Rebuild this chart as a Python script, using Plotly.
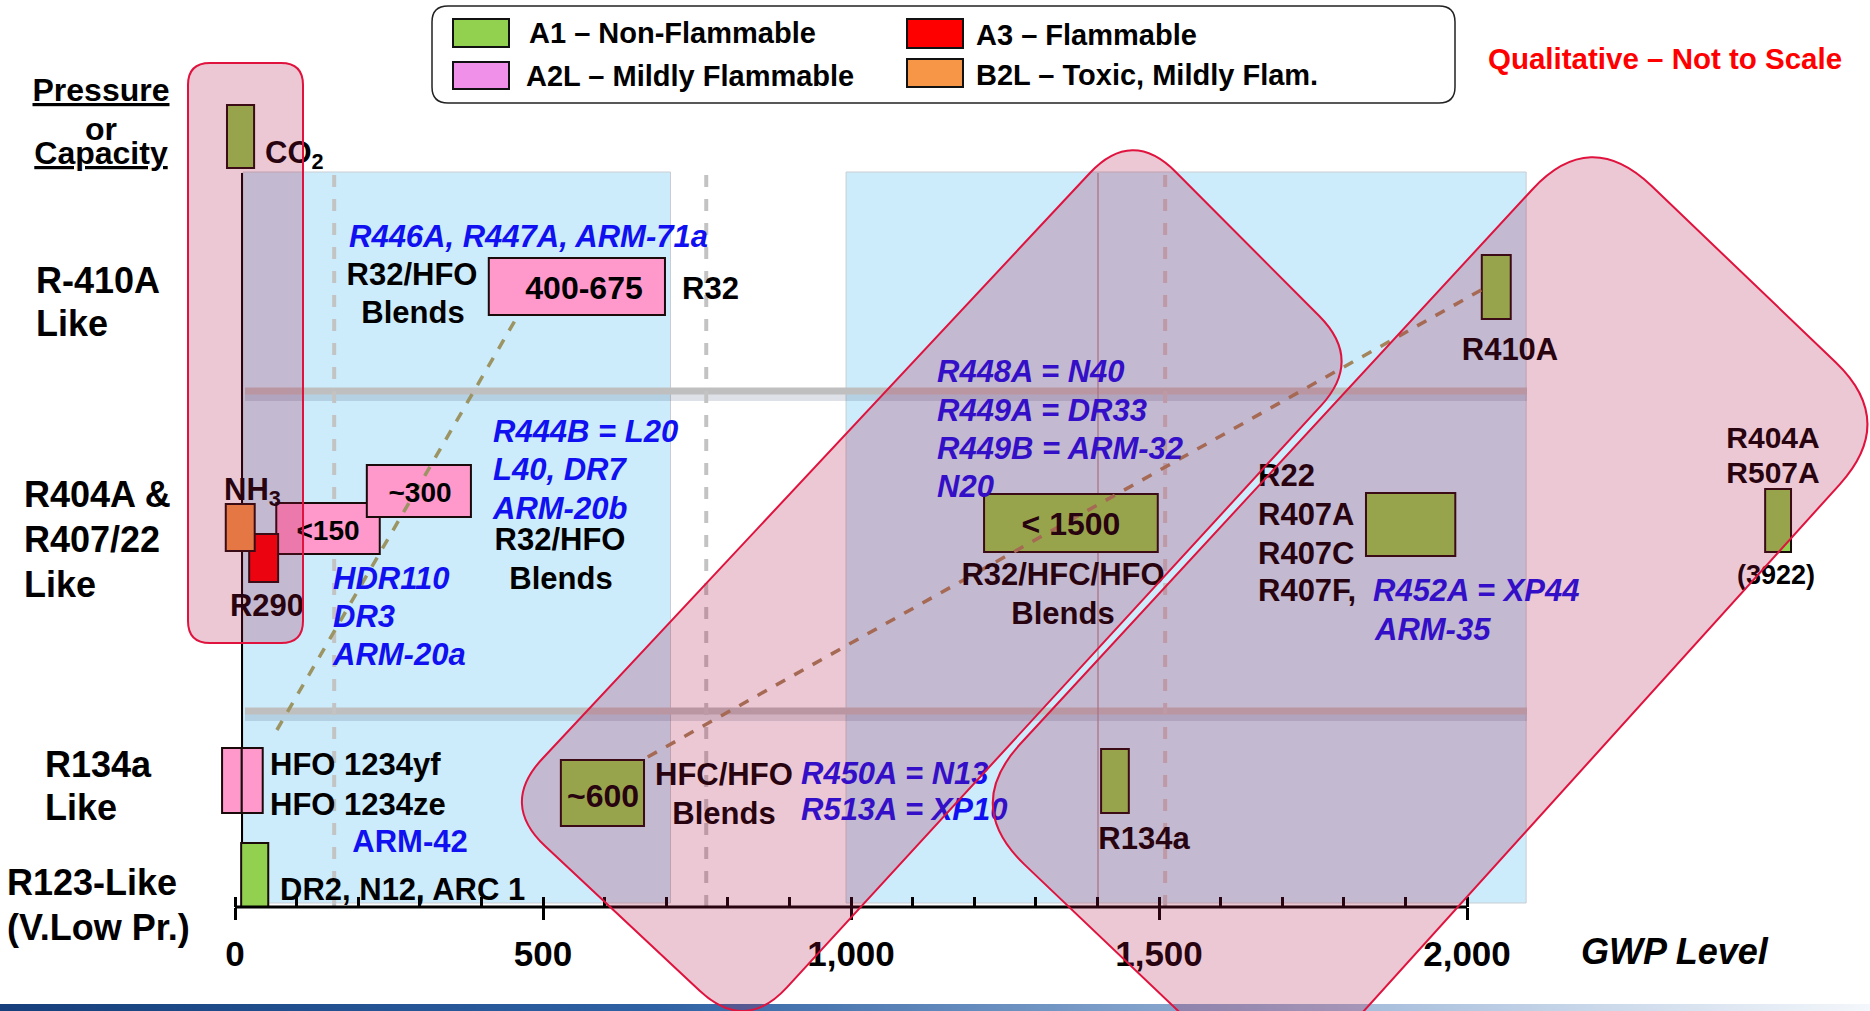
import numpy as np
import plotly.graph_objects as go

W, H = 1870, 1011
X0PX, PXPER = 235.0, 0.616      # pixel column of GWP 0, pixels per GWP unit
AXIS_Y = 907                    # pixel row of the GWP axis
TEXT_DY = 4                     # vertical nudge for chart labels

def gx(px):
    return (px - X0PX) / PXPER

# ------------------------------------------------------------------ data
gwp_major_ticks = [0, 500, 1000, 1500, 2000]
gwp_tick_text = ["0", "500", "1,000", "1,500", "2,000"]
gwp_minor_ticks = [v for v in range(100, 2000, 100) if v % 500]

safety_classes = ["A1", "A2L", "A3", "B2L"]
safety_labels = ["A1 – Non-Flammable", "A2L – Mildly Flammable",
                 "A3 – Flammable", "B2L – Toxic, Mildly Flam."]

marker_names = ["CO2", "NH3", "R290", "<150", "~300", "400-675", "< 1500",
                "R22/R407", "R404A/R507A", "R410A", "~600", "R134a",
                "HFO 1234yf", "HFO 1234ze", "DR2/N12/ARC 1"]
marker_class = ["A1", "B2L", "A3", "A2L", "A2L", "A2L", "A1",
                "A1", "A1", "A1", "A1", "A1", "A2L", "A2L", "A1"]
marker_gwp_lo = [-13, -15, 23, 67, 214, 412, 1216, 1836, 2484, 2024, 529, 1406, -21, 11, 10]
marker_gwp_hi = [31, 32, 70, 235, 383, 698, 1498, 1981, 2526, 2071, 664, 1451, 11, 45, 54]

# qualitative zones / guides (GWP)
zone_gwp_lo = [13, 992]
zone_gwp_hi = [707, 2096]
guide_gwp = [161, 765, 1510]
connector_gwp_from = [68, 670]
connector_gwp_to = [455, 2026]

# ------------------------------------------------------------------ layout (pixel rows)
marker_row_top = [105, 504, 534, 503, 465, 258, 494, 493, 489, 255, 760, 749, 748, 748, 843]
marker_row_bot = [168, 551, 582, 554, 517, 315, 552, 556, 552, 319, 826, 813, 813, 813, 907]
connector_row_from = [730, 757]
connector_row_to = [320, 289]

class_fill = {"A1": "#92D050", "A2L": "#FF99CC", "A3": "#FF0000", "B2L": "#F79646"}
legend_fill = {"A1": "#92D050", "A2L": "#F090E8", "A3": "#FF0000", "B2L": "#F79646"}

BLUE = "#1010F0"
BLACK = "#000000"
FONT = "Liberation Sans, Arial, sans-serif"

# labels: text, x px, y px, align, color, size, italic, underline
labels = [
    ("Pressure", 101, 89, "c", BLACK, 32, False, True),
    ("or", 101, 128, "c", BLACK, 32, False, False),
    ("Capacity", 101, 152, "c", BLACK, 32, False, True),
    ("R-410A", 36, 280, "l", BLACK, 36, False, False),
    ("Like", 36, 323, "l", BLACK, 36, False, False),
    ("R404A &", 24, 494, "l", BLACK, 36, False, False),
    ("R407/22", 24, 539, "l", BLACK, 36, False, False),
    ("Like", 24, 584, "l", BLACK, 36, False, False),
    ("R134a", 45, 764, "l", BLACK, 36, False, False),
    ("Like", 45, 807, "l", BLACK, 36, False, False),
    ("R123-Like", 7, 882, "l", BLACK, 36, False, False),
    ("(V.Low Pr.)", 7, 927, "l", BLACK, 36, False, False),
    ("CO<sub>2</sub>", 265, 151, "l", BLACK, 31, False, False),
    ("R446A, R447A, ARM-71a", 349, 235, "l", BLUE, 31, True, False),
    ("R32/HFO", 412, 273, "c", BLACK, 31, False, False),
    ("Blends", 413, 311, "c", BLACK, 31, False, False),
    ("400-675", 584, 287, "c", BLACK, 32, False, False),
    ("R32", 682, 287, "l", BLACK, 31, False, False),
    ("NH<sub>3</sub>", 224, 488, "l", BLACK, 31, False, False),
    ("<150", 328, 529, "c", BLACK, 28, False, False),
    ("~300", 420, 491, "c", BLACK, 28, False, False),
    ("R290", 267, 604, "c", BLACK, 31, False, False),
    ("HDR110", 333, 577, "l", BLUE, 31, True, False),
    ("DR3", 333, 615, "l", BLUE, 31, True, False),
    ("ARM-20a", 333, 653, "l", BLUE, 31, True, False),
    ("R444B = L20", 493, 430, "l", BLUE, 31, True, False),
    ("L40, DR7", 493, 468, "l", BLUE, 31, True, False),
    ("ARM-20b", 493, 507, "l", BLUE, 31, True, False),
    ("R32/HFO", 560, 538, "c", BLACK, 31, False, False),
    ("Blends", 561, 577, "c", BLACK, 31, False, False),
    ("R448A = N40", 937, 370, "l", BLUE, 31, True, False),
    ("R449A = DR33", 937, 409, "l", BLUE, 31, True, False),
    ("R449B = ARM-32", 937, 447, "l", BLUE, 31, True, False),
    ("N20", 937, 485, "l", BLUE, 31, True, False),
    ("< 1500", 1071, 523, "c", BLACK, 32, False, False),
    ("R32/HFC/HFO", 1063, 573, "c", BLACK, 31, False, False),
    ("Blends", 1063, 612, "c", BLACK, 31, False, False),
    ("R22", 1258, 474, "l", BLACK, 31, False, False),
    ("R407A", 1258, 513, "l", BLACK, 31, False, False),
    ("R407C", 1258, 552, "l", BLACK, 31, False, False),
    ("R407F,", 1258, 589, "l", BLACK, 31, False, False),
    ("R452A = XP44", 1373, 589, "l", BLUE, 31, True, False),
    ("ARM-35", 1375, 628, "l", BLUE, 31, True, False),
    ("R404A", 1773, 436, "c", BLACK, 30, False, False),
    ("R507A", 1773, 471, "c", BLACK, 30, False, False),
    ("(3922)", 1776, 573, "c", BLACK, 27, False, False),
    ("R410A", 1510, 348, "c", BLACK, 31, False, False),
    ("HFC/HFO", 655, 773, "l", BLACK, 31, False, False),
    ("Blends", 724, 812, "c", BLACK, 31, False, False),
    ("~600", 603, 795, "c", BLACK, 32, False, False),
    ("R450A = N13", 801, 772, "l", BLUE, 31, True, False),
    ("R513A = XP10", 801, 808, "l", BLUE, 31, True, False),
    ("R134a", 1144, 837, "c", BLACK, 31, False, False),
    ("HFO 1234yf", 270, 763, "l", BLACK, 31, False, False),
    ("HFO 1234ze", 270, 803, "l", BLACK, 31, False, False),
    ("ARM-42", 410, 840, "c", BLUE, 31, False, False),
    ("DR2, N12, ARC 1", 280, 888, "l", BLACK, 31, False, False),
    ("GWP Level", 1581, 951, "l", BLACK, 36, True, False),
]


def rounded_path(pts, t):
    """Closed path through pixel corner points with rounded corners (tangent length t)."""
    n = len(pts)
    d = ""
    for i in range(n):
        p = np.array(pts[i], float)
        prv = np.array(pts[i - 1], float)
        nxt = np.array(pts[(i + 1) % n], float)
        a = p + (prv - p) / np.linalg.norm(prv - p) * t
        b = p + (nxt - p) / np.linalg.norm(nxt - p) * t
        d += ("M" if i == 0 else "L") + f"{gx(a[0]):.2f},{a[1]:.2f} "
        d += f"Q{gx(p[0]):.2f},{p[1]:.2f} {gx(b[0]):.2f},{b[1]:.2f} "
    return d + "Z"


fig = go.Figure()

# bottom gradient stripe
fig.add_trace(go.Scatter(
    x=[gx(0), gx(W), gx(W), gx(0), gx(0)], y=[1004, 1004, 1012, 1012, 1004],
    mode="lines", line=dict(width=0), fill="toself",
    fillgradient=dict(type="horizontal",
                      colorscale=[[0, "#163F7C"], [0.35, "#2F62A4"], [0.7, "#9DB7D8"], [1, "#F4F7FB"]]),
    hoverinfo="skip", showlegend=False))

# axis baseline
fig.add_trace(go.Scatter(x=[gwp_major_ticks[0], gwp_major_ticks[-1]], y=[AXIS_Y, AXIS_Y],
                         mode="lines", line=dict(color="black", width=3),
                         hoverinfo="skip", showlegend=False))

# dashed connectors
conn_colors = ["#9C9462", "#A4845A"]
for i in range(len(connector_gwp_from)):
    fig.add_trace(go.Scatter(x=[connector_gwp_from[i], connector_gwp_to[i]],
                             y=[connector_row_from[i], connector_row_to[i]],
                             mode="lines", line=dict(color=conn_colors[i], width=3.5, dash="dash"),
                             hoverinfo="skip", showlegend=False))

# refrigerant boxes as horizontal bars
for cls in safety_classes:
    idx = [i for i, c in enumerate(marker_class) if c == cls]
    fig.add_trace(go.Bar(
        orientation="h",
        y=[(marker_row_top[i] + marker_row_bot[i]) / 2 for i in idx],
        x=[marker_gwp_hi[i] - marker_gwp_lo[i] for i in idx],
        base=[marker_gwp_lo[i] for i in idx],
        width=[marker_row_bot[i] - marker_row_top[i] for i in idx],
        marker=dict(color=class_fill[cls], line=dict(color="#1A0A0A", width=2)),
        name=cls, hovertext=[marker_names[i] for i in idx], hoverinfo="text",
        showlegend=False))

# text labels (grouped by style)
groups = {}
for lab in labels:
    key = (lab[4], lab[6], lab[7])
    groups.setdefault(key, []).append(lab)
for (color, italic, underline), labs in groups.items():
    fig.add_trace(go.Scatter(
        x=[gx(l[1]) for l in labs], y=[l[2] + TEXT_DY for l in labs],
        text=[l[0] for l in labs], mode="text",
        textposition=["middle right" if l[3] == "l" else "middle center" for l in labs],
        textfont=dict(family=FONT, size=[l[5] for l in labs], color=color,
                      weight="bold", style="italic" if italic else "normal",
                      lineposition="under" if underline else "none"),
        hoverinfo="skip", showlegend=False))

# invisible trace to carry the overlay tick axis
fig.add_trace(go.Scatter(x=[0], y=[AXIS_Y], xaxis="x2", mode="markers",
                         marker=dict(opacity=0), hoverinfo="skip", showlegend=False))

shapes = []
# light blue zones
for lo, hi in zip(zone_gwp_lo, zone_gwp_hi):
    shapes.append(dict(type="rect", xref="x", yref="y", x0=lo, x1=hi, y0=172, y1=903,
                       fillcolor="#CCECFC", line=dict(color="#C9CDD2", width=1), layer="below"))
# gray separator bands with soft shadow
for yb in [391, 711]:
    shapes.append(dict(type="line", xref="x", yref="y", x0=gx(245), x1=gx(1527), y0=yb + 6, y1=yb + 6,
                       line=dict(color="rgba(70,90,120,0.18)", width=8), layer="below"))
    shapes.append(dict(type="line", xref="x", yref="y", x0=gx(245), x1=gx(1527), y0=yb, y1=yb,
                       line=dict(color="#BFBFBF", width=7), layer="below"))
# dashed guides
for g in guide_gwp:
    shapes.append(dict(type="line", xref="x", yref="y", x0=g, x1=g, y0=175, y1=907,
                       line=dict(color="#C3C3C3", width=4, dash="dash"), layer="below"))
shapes.append(dict(type="line", xref="x", yref="y", x0=gx(1098), x1=gx(1098), y0=173, y1=903,
                   line=dict(color="rgba(170,140,150,0.8)", width=1.5), layer="below"))
# vertical axis line
shapes.append(dict(type="line", xref="x", yref="y", x0=gx(242), x1=gx(242), y0=173, y1=AXIS_Y,
                   line=dict(color="black", width=2), layer="below"))

# translucent pink groupings (above everything)
OV_FILL = "rgba(168,16,64,0.23)"
OV_LINE = "#E0123E"
overlays = [
    ([(188, 63), (303, 63), (303, 643), (188, 643)], 22),
    ([(500, 804), (1132, 128), (1363, 360), (745, 1033)], 62),
    ([(963, 806), (1590, 127), (1897, 421), (1278, 1106)], 85),
]
for pts, t in overlays:
    shapes.append(dict(type="path", xref="x", yref="y", path=rounded_path(pts, t),
                       fillcolor=OV_FILL, line=dict(color=OV_LINE, width=2), layer="above"))

# legend box
shapes.append(dict(type="path", xref="x", yref="y",
                   path=rounded_path([(432, 6), (1455, 6), (1455, 103), (432, 103)], 16),
                   fillcolor="white", line=dict(color="#222222", width=1.5), layer="above"))
annotations = []
leg_pos = {"A1": (453, 19, 47, 527, 33), "A2L": (453, 62, 89, 524, 76),
           "A3": (907, 19, 48, 974, 35), "B2L": (907, 59, 87, 974, 75)}
for cls, lab in zip(safety_classes, safety_labels):
    x0, y0, y1, tx, ty = leg_pos[cls]
    shapes.append(dict(type="rect", xref="x", yref="y", x0=gx(x0), x1=gx(x0 + 56), y0=y0, y1=y1,
                       fillcolor=legend_fill[cls], line=dict(color="#111111", width=2), layer="above"))
    annotations.append(dict(x=gx(tx), y=ty, xref="x", yref="y", text=lab, showarrow=False,
                            xanchor="left", yanchor="middle",
                            font=dict(family=FONT, size=29, color="black", weight="bold")))
annotations.append(dict(x=gx(1486), y=58, xref="x", yref="y", text="Qualitative – Not to Scale",
                        showarrow=False, xanchor="left", yanchor="middle",
                        font=dict(family=FONT, size=29.5, color="#FF0000", weight="bold")))

axis_pos = 1 - AXIS_Y / H
fig.update_layout(
    width=W, height=H, margin=dict(l=0, r=0, t=0, b=0),
    paper_bgcolor="white", plot_bgcolor="white",
    barmode="overlay", showlegend=False,
    shapes=shapes, annotations=annotations,
    xaxis=dict(range=[gx(0), gx(W)], domain=[0, 1], anchor="free", position=axis_pos,
               showgrid=False, zeroline=False, showline=False,
               tickmode="array", tickvals=gwp_major_ticks, ticktext=gwp_tick_text,
               ticks="outside", ticklen=12, tickwidth=2.5, tickcolor="black",
               tickfont=dict(family=FONT, size=35, color="black", weight="bold"),
               ticklabelstandoff=4,
               minor=dict(tickmode="array", tickvals=gwp_minor_ticks, ticks="inside",
                          ticklen=10, tickwidth=2.5, tickcolor="black", showgrid=False),
               fixedrange=True),
    xaxis2=dict(overlaying="x", matches="x", anchor="free", position=axis_pos,
                showgrid=False, zeroline=False, showline=False, showticklabels=False,
                tickmode="array", tickvals=gwp_major_ticks, ticks="inside",
                ticklen=10, tickwidth=2.5, tickcolor="black", fixedrange=True),
    yaxis=dict(range=[H, 0], domain=[0, 1], visible=False, fixedrange=True),
)

fig.write_html("out.html", config={"displayModeBar": False},
               post_script="document.body.style.margin='0';document.body.style.overflow='hidden';")
